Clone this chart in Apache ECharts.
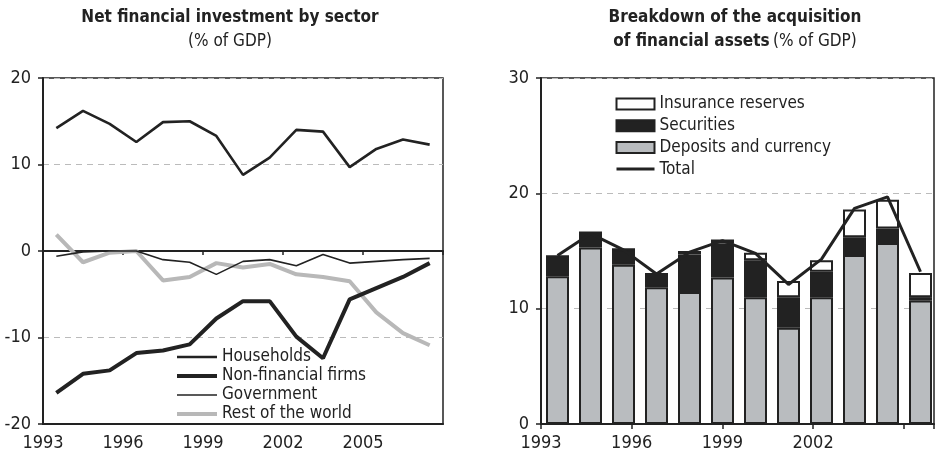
<!DOCTYPE html>
<html>
<head>
<meta charset="utf-8">
<script src="https://cdn.jsdelivr.net/npm/echarts@6/dist/echarts.min.js"></script>
<style>
  html, body { margin: 0; padding: 0; background: #fff; }
  #chart { width: 937px; height: 462px; }
</style>
</head>
<body>
<div id="chart"></div>
<script>
// left panel: net financial investment by sector (% of GDP)
const yearsLeft = [1993, 1994, 1995, 1996, 1997, 1998, 1999, 2000, 2001, 2002, 2003, 2004, 2005, 2006, 2007];
const households = [14.2, 16.2, 14.7, 12.6, 14.9, 15.0, 13.3, 8.8, 10.8, 14.0, 13.8, 9.7, 11.8, 12.9, 12.3];
const nonFinancialFirms = [-16.4, -14.2, -13.8, -11.8, -11.5, -10.8, -7.8, -5.8, -5.8, -9.9, -12.4, -5.6, -4.3, -3.0, -1.4];
const government = [-0.6, -0.1, 0, 0, -1.0, -1.3, -2.7, -1.2, -1.0, -1.7, -0.4, -1.4, -1.2, -1.0, -0.85];
const restOfWorld = [1.9, -1.3, -0.2, 0, -3.4, -3.0, -1.4, -1.9, -1.5, -2.7, -3.0, -3.5, -7.1, -9.5, -10.9];

// right panel: breakdown of the acquisition of financial assets (% of GDP)
const yearsRight = ["1993", "1994", "1995", "1996", "1997", "1998", "1999", "2000", "2001", "2002", "2003", "2004"];
const deposits = [12.8, 15.3, 13.8, 11.85, 11.45, 12.7, 11.0, 8.35, 11.0, 14.65, 15.7, 10.7];
const securities = [1.75, 1.3, 1.35, 1.15, 3.25, 2.95, 3.2, 2.65, 2.2, 1.55, 1.25, 0.3];
const insurance = [0, 0, 0, 0, 0.3, 0.35, 0.65, 1.4, 1.0, 2.4, 2.5, 2.1];
const total = [14.6, 16.5, 15.1, 13.0, 14.9, 15.9, 14.8, 12.1, 14.3, 18.7, 19.7, 13.2];

const xTicksLeft = ["1993", "1996", "1999", "2002", "2005"];
const xTicksRight = ["1993", "1996", "1999", "2002"];

const FONT = '"DejaVu Sans Condensed", "Liberation Sans Narrow", "Open Sans", sans-serif';
const INK = "#222";
const GREY = "#b9bcbf";

// annual values sit in the middle of each year
const pairs = (years, vals) => years.map((y, i) => [y + 0.5, vals[i]]);

const chart = echarts.init(document.getElementById("chart"));

const axisText = { color: INK, fontSize: 18, fontFamily: FONT };
const titleRich = {
  b: { fontFamily: FONT, fontWeight: "bold", fontSize: 17, fill: INK, lineHeight: 24 },
  n: { fontFamily: FONT, fontSize: 17, fill: INK, lineHeight: 24 },
};

chart.setOption({
  animation: false,
  textStyle: { fontFamily: FONT },
  graphic: [
    {
      type: "text",
      x: 230, y: 6,
      style: {
        align: "center",
        text: "{b|Net financial investment by sector}\n{n|(% of GDP)}",
        rich: titleRich,
      },
    },
    {
      type: "text",
      x: 735, y: 6,
      style: {
        align: "center",
        text: "{b|Breakdown of the acquisition}\n{b|of financial assets} {n|(% of GDP)}",
        rich: titleRich,
      },
    },
  ],
  legend: [
    {
      left: 170,
      top: 343,
      orient: "vertical",
      itemWidth: 40,
      itemHeight: 14,
      itemGap: 1,
      itemStyle: { opacity: 0 },
      lineStyle: { width: "inherit" },
      textStyle: { color: INK, fontSize: 17, fontFamily: FONT, lineHeight: 18 },
      data: ["Households", "Non-financial firms", "Government", "Rest of the world"],
    },
    {
      left: 610,
      top: 89,
      orient: "vertical",
      itemWidth: 38,
      itemHeight: 11,
      itemGap: 1.7,
      lineStyle: { width: "inherit" },
      textStyle: { color: INK, fontSize: 17, fontFamily: FONT, lineHeight: 20 },
      data: [
        { name: "Insurance reserves", icon: "rect" },
        { name: "Securities", icon: "rect" },
        { name: "Deposits and currency", icon: "rect" },
        { name: "Total", itemStyle: { opacity: 0 } },
      ],
    },
  ],
  grid: [
    {
      left: 43, top: 78, width: 400, height: 346,
      show: true, borderColor: INK, borderWidth: 1.5,
    },
    {
      left: 541, top: 78, width: 429, height: 346,
      show: true, borderColor: INK, borderWidth: 1.5,
    },
    {
      // bar slots, one year wide each, over the right frame
      left: 541, top: 78, width: 396, height: 346,
    },
  ],
  xAxis: [
    {
      gridIndex: 0,
      type: "value",
      min: 1993, max: 2008, interval: 3,
      position: "bottom",
      axisLine: { onZero: false, lineStyle: { color: INK, width: 2 } },
      axisTick: { show: false },
      axisLabel: {
        ...axisText, margin: 10,
        formatter: (v) => (xTicksLeft.includes(String(v)) ? String(v) : ""),
      },
      splitLine: { show: false },
    },
    {
      // tick marks sitting on the zero line
      gridIndex: 0,
      type: "value",
      min: 1993, max: 2008, interval: 3,
      position: "bottom",
      axisLine: { onZero: true, lineStyle: { color: INK, width: 2 } },
      axisTick: { show: true, length: 4, lineStyle: { color: INK, width: 1.5 } },
      axisLabel: { show: false },
      splitLine: { show: false },
    },
    {
      gridIndex: 1,
      type: "value",
      min: 1993, max: 2006, interval: 3,
      position: "bottom",
      axisLine: { onZero: false, lineStyle: { color: INK, width: 2 } },
      axisTick: { show: true, length: 5, lineStyle: { color: INK, width: 1.5 } },
      axisLabel: {
        ...axisText, margin: 10,
        formatter: (v) => (xTicksRight.includes(String(v)) ? String(v) : ""),
      },
      splitLine: { show: false },
    },
    {
      gridIndex: 2,
      type: "category",
      show: false,
      data: yearsRight,
    },
  ],
  yAxis: [
    {
      gridIndex: 0,
      type: "value",
      min: -20, max: 20, interval: 10,
      axisLine: { show: true, onZero: false, lineStyle: { color: INK, width: 2 } },
      axisTick: { show: true, length: 5, lineStyle: { color: INK, width: 1.5 } },
      axisLabel: { ...axisText, margin: 12 },
      splitLine: { show: true, lineStyle: { color: "#bbb", type: [6, 5], width: 1 } },
    },
    {
      gridIndex: 1,
      type: "value",
      min: 0, max: 30, interval: 10,
      axisLine: { show: true, onZero: false, lineStyle: { color: INK, width: 2 } },
      axisTick: { show: true, length: 5, lineStyle: { color: INK, width: 1.5 } },
      axisLabel: { ...axisText, margin: 12 },
      splitLine: { show: true, lineStyle: { color: "#bbb", type: [6, 5], width: 1 } },
    },
    {
      gridIndex: 2,
      type: "value",
      min: 0, max: 30,
      show: false,
      splitLine: { show: false },
    },
  ],
  series: [
    {
      name: "Households",
      type: "line",
      xAxisIndex: 0, yAxisIndex: 0,
      symbol: "none",
      lineStyle: { color: INK, width: 2.6 },
      itemStyle: { color: INK },
      data: pairs(yearsLeft, households),
      z: 4,
    },
    {
      name: "Non-financial firms",
      type: "line",
      xAxisIndex: 0, yAxisIndex: 0,
      symbol: "none",
      lineStyle: { color: INK, width: 4 },
      itemStyle: { color: INK },
      data: pairs(yearsLeft, nonFinancialFirms),
      z: 4,
    },
    {
      name: "Government",
      type: "line",
      xAxisIndex: 0, yAxisIndex: 0,
      symbol: "none",
      lineStyle: { color: INK, width: 1.6 },
      itemStyle: { color: INK },
      data: pairs(yearsLeft, government),
      z: 5,
    },
    {
      name: "Rest of the world",
      type: "line",
      xAxisIndex: 0, yAxisIndex: 0,
      symbol: "none",
      lineStyle: { color: "#b8b8b8", width: 4 },
      itemStyle: { color: "#b8b8b8" },
      data: pairs(yearsLeft, restOfWorld),
      z: 3,
    },
    {
      name: "Deposits and currency",
      type: "bar",
      xAxisIndex: 3, yAxisIndex: 2,
      stack: "assets",
      barWidth: 23,
      itemStyle: { color: GREY, borderColor: INK, borderWidth: 2 },
      data: deposits,
    },
    {
      name: "Securities",
      type: "bar",
      xAxisIndex: 3, yAxisIndex: 2,
      stack: "assets",
      barWidth: 23,
      itemStyle: { color: INK, borderColor: INK, borderWidth: 2 },
      data: securities,
    },
    {
      name: "Insurance reserves",
      type: "bar",
      xAxisIndex: 3, yAxisIndex: 2,
      stack: "assets",
      barWidth: 23,
      itemStyle: { color: "#fff", borderColor: INK, borderWidth: 2 },
      data: insurance,
    },
    {
      name: "Total",
      type: "line",
      xAxisIndex: 3, yAxisIndex: 2,
      symbol: "none",
      lineStyle: { color: INK, width: 3 },
      itemStyle: { color: INK },
      data: total,
      z: 5,
    },
  ],
});
</script>
</body>
</html>
